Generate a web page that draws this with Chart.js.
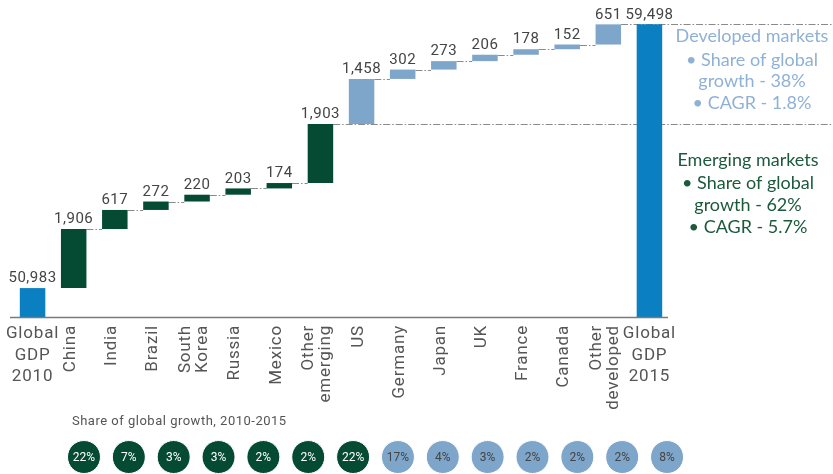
<!DOCTYPE html>
<html>
<head>
<meta charset="utf-8">
<script src="https://cdn.jsdelivr.net/npm/chart.js@4.4.0/dist/chart.umd.min.js"></script>
<style>
  html, body { margin: 0; padding: 0; background: #fff; }
  #wrap { width: 833px; height: 474px; }
</style>
</head>
<body>
<div id="wrap"><canvas id="c"></canvas></div>
<script>
const labels = [
  ["Global", "GDP", "2010"], ["China"], ["India"], ["Brazil"], ["South", "Korea"],
  ["Russia"], ["Mexico"], ["Other", "emerging"], ["US"], ["Germany"], ["Japan"],
  ["UK"], ["France"], ["Canada"], ["Other", "developed"], ["Global", "GDP", "2015"]
];
const values = [50983, 1906, 617, 272, 220, 203, 174, 1903, 1458, 302, 273, 206, 178, 152, 651, 59498];
const groups = ["total", "em", "em", "em", "em", "em", "em", "em",
  "dev", "dev", "dev", "dev", "dev", "dev", "dev", "total"];
const shares = [22, 7, 3, 3, 2, 2, 22, 17, 4, 3, 2, 2, 2, 8];
const shareGroups = ["em", "em", "em", "em", "em", "em", "em", "dev", "dev", "dev", "dev", "dev", "dev", "dev"];

const colors = { total: "#0a7fc1", em: "#054b34", dev: "#7ea5ca" };
const axisFloor = 50050; // the broken value axis starts here

// running totals for the waterfall
const tops = [];
const barData = [];
let run = 0;
values.forEach((v, i) => {
  if (groups[i] === "total") {
    run = v;
    barData.push(v);
  } else {
    barData.push([run, run + v]);
    run += v;
  }
  tops.push(run);
});

const font = "Roboto, 'DejaVu Sans', sans-serif";

const drawExtras = {
  id: "drawExtras",
  beforeDatasetsDraw(chart) {
    const ctx = chart.ctx;
    const bars = chart.getDatasetMeta(0).data;
    const y = chart.scales.y;
    ctx.save();
    ctx.strokeStyle = "#8a8a8a";
    ctx.lineWidth = 1;
    ctx.setLineDash([7, 2, 1.5, 2]);
    for (let i = 1; i < bars.length - 1; i++) {
      const py = Math.round(y.getPixelForValue(tops[i])) + 0.5;
      const x0 = bars[i].x + bars[i].width / 2;
      let x1 = bars[i + 1].x - bars[i + 1].width / 2;
      if (i === 7 || i === 14) x1 = chart.width;
      ctx.beginPath();
      ctx.moveTo(x0, py);
      ctx.lineTo(x1, py);
      ctx.stroke();
    }
    ctx.restore();
  },
  afterDatasetsDraw(chart) {
    const ctx = chart.ctx;
    const bars = chart.getDatasetMeta(0).data;
    const dots = chart.getDatasetMeta(1).data;
    const area = chart.chartArea;
    const base = chart.scales.y.getPixelForValue(axisFloor);
    ctx.save();

    // baseline
    ctx.strokeStyle = "#7a7a7a";
    ctx.lineWidth = 1.5;
    ctx.beginPath();
    ctx.moveTo(area.left - 2, base + 0.5);
    ctx.lineTo(area.right - 2, base + 0.5);
    ctx.stroke();

    // value labels
    ctx.fillStyle = "#444";
    ctx.font = "15px " + font;
    ctx.letterSpacing = "0.5px";
    ctx.textAlign = "center";
    ctx.textBaseline = "bottom";
    bars.forEach((b, i) => {
      ctx.fillText(values[i].toLocaleString("en-US"), b.x, b.y - 2);
    });

    // category labels
    ctx.font = "17px " + font;
    ctx.letterSpacing = "0.8px";
    ctx.fillStyle = "#555";
    bars.forEach((b, i) => {
      const lines = labels[i];
      if (groups[i] === "total") {
        ctx.textAlign = "center";
        ctx.textBaseline = "middle";
        lines.forEach((t, j) => ctx.fillText(t, b.x, base + 17 + j * 21.5));
      } else {
        ctx.save();
        ctx.translate(b.x - 3, base + 8);
        ctx.rotate(-Math.PI / 2);
        ctx.textAlign = "right";
        ctx.textBaseline = "middle";
        lines.forEach((t, j) => ctx.fillText(t, 0, (j - (lines.length - 1) / 2) * 17));
        ctx.restore();
      }
    });

    // share circles text
    ctx.font = "12px " + font;
    ctx.letterSpacing = "0px";
    ctx.textAlign = "center";
    ctx.textBaseline = "middle";
    dots.forEach((d, i) => {
      ctx.fillStyle = shareGroups[i] === "em" ? "#fff" : "#444";
      ctx.fillText(shares[i] + "%", d.x, d.y + 1);
    });

    ctx.fillStyle = "#555";
    ctx.textAlign = "left";
    ctx.font = "13px " + font;
    ctx.letterSpacing = "0.5px";
    ctx.fillText("Share of global growth, 2010-2015", dots[0].x - 12, 422);

    // market notes
    ctx.letterSpacing = "0px";
    ctx.textAlign = "center";
    ctx.font = "18px Lato, 'Open Sans', sans-serif";
    ctx.fillStyle = "#8fb1d6";
    ["Developed markets", "\u2022 Share of global", "growth - 38%", "\u2022 CAGR - 1.8%"]
      .forEach((t, j) => ctx.fillText(t, 752, [36, 60, 81, 103][j]));
    ctx.fillStyle = "#1c5a3c";
    ["Emerging markets", "\u2022 Share of global", "growth - 62%", "\u2022 CAGR - 5.7%"]
      .forEach((t, j) => ctx.fillText(t, 748, [160, 183, 205, 227][j]));

    ctx.restore();
  }
};

new Chart(document.getElementById("c"), {
  type: "bar",
  data: {
    labels: labels.map(l => l.join(" ")),
    datasets: [
      {
        data: barData,
        base: axisFloor,
        backgroundColor: groups.map(g => colors[g]),
        borderWidth: 0,
        grouped: false,
        barPercentage: 0.62,
        categoryPercentage: 1,
        xAxisID: "x",
        yAxisID: "y"
      },
      {
        type: "bubble",
        data: shares.map((s, i) => ({ x: i, y: 0, r: 16.5 })),
        backgroundColor: shareGroups.map(g => colors[g]),
        borderColor: "#fff",
        borderWidth: 1,
        clip: false,
        xAxisID: "x2",
        yAxisID: "y2"
      }
    ]
  },
  options: {
    responsive: true,
    maintainAspectRatio: false,
    animation: false,
    layout: { autoPadding: false, padding: { left: 12, right: 163, top: 15, bottom: 0 } },
    plugins: { legend: { display: false }, tooltip: { enabled: false } },
    scales: {
      x: { display: false },
      y: { display: false, min: 44981, max: 59800 },
      x2: { type: "linear", display: false, offset: false, min: -1.605, max: 13.066 },
      y2: { type: "linear", display: false, offset: false, min: -0.037, max: 0.963 }
    }
  },
  plugins: [drawExtras]
});
</script>
</body>
</html>
